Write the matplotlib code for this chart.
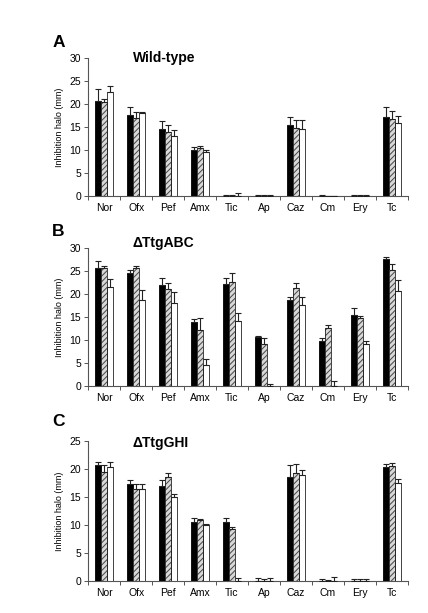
import numpy as np
import matplotlib
matplotlib.use("Agg")
import matplotlib.pyplot as plt

drugs = ["Nor", "Ofx", "Pef", "Amx", "Tic", "Ap", "Caz", "Cm", "Ery", "Tc"]

# Wild-type: mean values and top of error bar (black, hatched, white)
wt_black = [20.8, 17.7, 14.6, 10.0, 0, 0, 15.5, 0, 0, 17.3]
wt_black_top = [23.2, 19.4, 16.3, 10.6, 0.3, 0.2, 17.2, 0.3, 0.2, 19.3]
wt_hatch = [20.4, 17.0, 14.0, 10.5, 0, 0, 14.9, 0, 0, 16.7]
wt_hatch_top = [21.2, 18.4, 15.4, 11.0, 0.3, 0.2, 16.6, 0.1, 0.2, 18.6]
wt_white = [22.7, 18.0, 13.0, 9.5, 0, 0, 14.6, 0, 0, 16.0]
wt_white_top = [24.0, 18.2, 14.4, 10.1, 0.6, 0.2, 16.6, 0.1, 0.2, 17.4]

# dTtgABC
abc_black = [25.8, 24.6, 22.1, 13.9, 22.2, 10.6, 18.7, 9.9, 15.5, 27.6]
abc_black_top = [27.3, 25.2, 23.5, 14.6, 23.6, 11.0, 19.4, 10.4, 16.9, 28.2]
abc_hatch = [25.7, 25.8, 21.2, 12.2, 22.7, 9.1, 21.3, 12.6, 14.8, 25.3]
abc_hatch_top = [26.2, 26.2, 22.5, 14.9, 24.7, 10.4, 22.5, 13.3, 15.3, 26.6]
abc_white = [21.6, 18.7, 18.1, 4.6, 14.2, 0, 17.7, 0, 9.1, 20.7]
abc_white_top = [23.3, 21.0, 20.4, 5.9, 16.0, 0.5, 19.3, 1.1, 9.8, 23.2]

# dTtgGHI
ghi_black = [20.8, 17.4, 17.0, 10.6, 10.6, 0, 18.7, 0, 0, 20.4]
ghi_black_top = [21.3, 18.0, 18.1, 11.3, 11.3, 0.5, 20.8, 0.4, 0.3, 20.9]
ghi_hatch = [19.6, 16.5, 18.6, 10.9, 9.4, 0, 19.3, 0, 0, 20.6]
ghi_hatch_top = [20.7, 17.3, 19.3, 11.1, 9.6, 0.4, 21.0, 0.2, 0.4, 21.1]
ghi_white = [20.5, 16.5, 15.0, 10.0, 0, 0, 19.0, 0, 0, 17.5]
ghi_white_top = [21.3, 17.3, 15.5, 10.3, 0.5, 0.5, 19.8, 0.7, 0.3, 18.3]

panels = [
    ("A", "Wild-type", 30, [(wt_black, wt_black_top), (wt_hatch, wt_hatch_top), (wt_white, wt_white_top)]),
    ("B", "\u0394TtgABC", 30, [(abc_black, abc_black_top), (abc_hatch, abc_hatch_top), (abc_white, abc_white_top)]),
    ("C", "\u0394TtgGHI", 25, [(ghi_black, ghi_black_top), (ghi_hatch, ghi_hatch_top), (ghi_white, ghi_white_top)]),
]

plt.rcParams['font.family'] = ['Liberation Sans', 'DejaVu Sans']
plt.rcParams['hatch.linewidth'] = 0.7

fig = plt.figure(figsize=(4.28, 6.13), dpi=100)
boxes = [(0.206, 0.680, 0.747, 0.225),
         (0.206, 0.370, 0.747, 0.225),
         (0.206, 0.052, 0.747, 0.228)]
title_y = [1.0, 1.035, 0.99]
letter_y = [1.115, 1.12, 1.14]

x = np.arange(len(drugs))
w = 0.19
for k, ((letter, title, ymax, series), box) in enumerate(zip(panels, boxes)):
    ax = fig.add_axes(box)
    for i, (vals, tops) in enumerate(series):
        pos = x + (i - 1) * w
        vals = np.array(vals, dtype=float)
        err = np.array(tops) - vals
        if i == 0:
            ax.bar(pos, vals, w, color='black', edgecolor='black', linewidth=0.6, zorder=2)
        elif i == 1:
            ax.bar(pos, vals, w, color='#d8d8d8', edgecolor='#444444', hatch='//////',
                   linewidth=0, zorder=2)
            ax.bar(pos, vals, w, fill=False, edgecolor='#222222', linewidth=0.6, zorder=3)
        else:
            ax.bar(pos, vals, w, color='white', edgecolor='#222222', linewidth=0.6, zorder=2)
        ax.errorbar(pos, vals, yerr=[np.zeros_like(err), err], fmt='none',
                    ecolor='#222222', elinewidth=0.8, capsize=2.2, capthick=0.8, zorder=4)

    ax.set_xlim(-0.5, len(drugs) - 0.5)
    ax.set_ylim(0, ymax)
    ax.set_yticks(np.arange(0, ymax + 1, 5))
    ax.set_xticks(x)
    ax.set_xticklabels(drugs)
    ax.set_xticks(np.arange(-0.5, len(drugs)), minor=True)
    ax.tick_params(axis='x', which='major', length=0, labelsize=7.5, pad=5)
    ax.tick_params(axis='x', which='minor', length=3, width=0.7, color='#555555')
    ax.tick_params(axis='y', length=3, width=0.7, labelsize=7.5, color='#555555', pad=2)
    for s in ['top', 'right']:
        ax.spines[s].set_visible(False)
    for s in ['left', 'bottom']:
        ax.spines[s].set_color('#555555')
        ax.spines[s].set_linewidth(0.8)
    ax.set_ylabel("Inhibition halo (mm)", fontsize=6.5, labelpad=4)
    ax.text(0.14, title_y[k], title, transform=ax.transAxes, fontsize=10, fontweight='bold',
            va='center', ha='left')
    ax.text(-0.112, letter_y[k], letter, transform=ax.transAxes, fontsize=12.5, fontweight='bold',
            va='center', ha='left')

fig.savefig("out.png", dpi=100)
